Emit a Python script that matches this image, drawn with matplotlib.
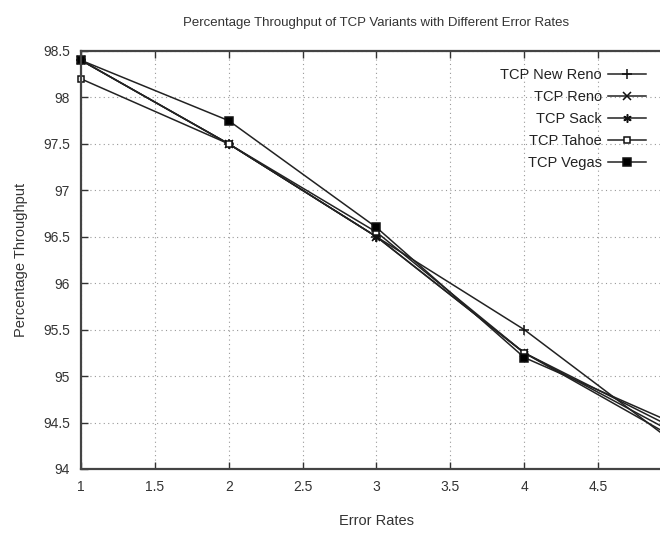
import matplotlib
matplotlib.use("Agg")
import matplotlib.pyplot as plt

# error rate on x, % throughput on y
error_rates = [1, 2, 3, 4, 5]
new_reno = [98.4, 97.5, 96.5, 95.5, 94.3]
reno = [98.4, 97.5, 96.5, 95.25, 94.35]
sack = [98.4, 97.5, 96.5, 95.25, 94.4]
tahoe = [98.2, 97.5, 96.55, 95.25, 94.45]
vegas = [98.4, 97.75, 96.6, 95.2, 94.5]

labels = ["TCP New Reno", "TCP Reno", "TCP Sack", "TCP Tahoe", "TCP Vegas"]
series = [new_reno, reno, sack, tahoe, vegas]
markers = [dict(marker="+", ms=7, mfc="black"),
           dict(marker="x", ms=6, mfc="black"),
           dict(marker=(6, 2, 0), ms=6, mfc="black"),
           dict(marker="s", ms=5, mfc="white"),
           dict(marker="s", ms=6, mfc="black")]
xticks = [1, 1.5, 2, 2.5, 3, 3.5, 4, 4.5]
yticks = [94, 94.5, 95, 95.5, 96, 96.5, 97, 97.5, 98, 98.5]

plt.rcParams["font.family"] = ["Liberation Sans", "DejaVu Sans"]

fig = plt.figure(figsize=(6.6, 5.39), dpi=100)
ax = fig.add_axes([0.1227, 0.1299, 0.8955, 0.7755])

for ys, lab, mk in zip(series, labels, markers):
    ax.plot(error_rates, ys, color="#222222", lw=1.1, mec="#111111",
            mew=1.1, label=lab, clip_on=False, **mk)

ax.set_xlim(1, 5)
ax.set_ylim(94, 98.5)
ax.set_xticks(xticks)
ax.set_xticklabels([f"{v:g}" for v in xticks])
ax.set_yticks(yticks)
ax.set_yticklabels([f"{v:g}" for v in yticks])
ax.tick_params(direction="in", top=True, right=True, length=5, width=1,
               labelsize=10, colors="#333333", pad=8)
ax.grid(True, color="#999999", ls=(0, (1, 3)), lw=0.8)
for s in ax.spines.values():
    s.set_color("#444444")
    s.set_linewidth(1.6)

ax.set_title("Percentage Throughput of TCP Variants with Different Error Rates",
             fontsize=9.5, color="#333333", pad=18)
ax.set_xlabel("Error Rates", fontsize=10.5, color="#333333", labelpad=14)
ax.set_ylabel("Percentage Throughput", fontsize=10.5, color="#333333", labelpad=11)

leg = ax.legend(loc="upper right", bbox_to_anchor=(0.97, 0.98), frameon=False,
                markerfirst=False, fontsize=10.5, handlelength=2.6,
                labelspacing=0.55, borderaxespad=0.2, handletextpad=0.4)
for t in leg.get_texts():
    t.set_ha("right")
    t.set_color("#222222")

fig.savefig("out.png", dpi=100)
